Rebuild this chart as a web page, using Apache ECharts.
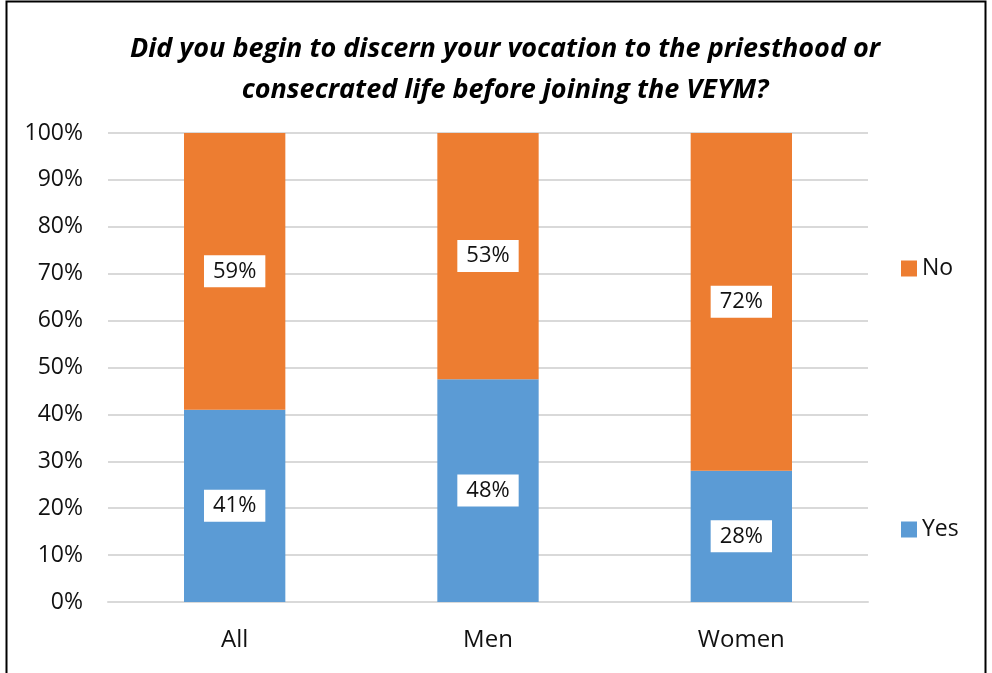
<!DOCTYPE html>
<html>
<head>
<meta charset="utf-8">
<script src="https://cdn.jsdelivr.net/npm/echarts@6/dist/echarts.min.js"></script>
<style>
  html, body { margin: 0; padding: 0; background: #fff; }
  #chart { width: 992px; height: 673px; }
</style>
</head>
<body>
<div id="chart"></div>
<script>
const categories = ['All', 'Men', 'Women'];
const yesValues = [41, 47.5, 28];
const noValues = [59, 52.5, 72];
const yTicks = ['0%', '10%', '20%', '30%', '40%', '50%', '60%', '70%', '80%', '90%', '100%'];

const labelStyle = {
  show: true,
  position: 'inside',
  formatter: p => Math.round(p.value) + '%',
  color: '#111',
  fontSize: 22,
  fontFamily: 'Open Sans',
  backgroundColor: '#fff',
  padding: [5, 9, 5, 9]
};

const getOption = () => {
  return {
    textStyle: { fontFamily: 'Open Sans' },
    title: {
      text: 'Did you begin to discern your vocation to the priesthood or\nconsecrated life before joining the VEYM?',
      left: 500,
      textAlign: 'center',
      top: 24,
      textStyle: {
        fontSize: 27,
        fontWeight: 'bold',
        fontStyle: 'italic',
        color: '#000',
        lineHeight: 41,
        fontFamily: 'Open Sans'
      }
    },
    legend: [
      {
        data: ['No'],
        left: 896,
        top: 252,
        itemWidth: 16,
        itemHeight: 16,
        itemGap: 6,
        icon: 'rect',
        textStyle: { fontSize: 23, color: '#111' }
      },
      {
        data: ['Yes'],
        left: 896,
        top: 513,
        itemWidth: 16,
        itemHeight: 16,
        icon: 'rect',
        textStyle: { fontSize: 23, color: '#111' }
      }
    ],
    grid: { left: 108, right: 124, top: 133, bottom: 71 },
    xAxis: {
      type: 'category',
      data: categories,
      axisTick: { show: false },
      axisLine: { lineStyle: { color: '#d9d9d9', width: 2 } },
      axisLabel: { fontSize: 24, color: '#111', margin: 26 }
    },
    yAxis: {
      type: 'value',
      min: 0,
      max: 100,
      interval: 10,
      axisLabel: {
        fontSize: 23,
        color: '#111',
        margin: 25,
        formatter: v => yTicks[Math.round(v / 10)]
      },
      splitLine: { lineStyle: { color: '#d9d9d9', width: 2 } }
    },
    series: [
      {
        name: 'Yes',
        type: 'bar',
        stack: 'total',
        data: yesValues,
        barWidth: '40%',
        itemStyle: { color: '#5b9bd5' },
        label: labelStyle
      },
      {
        name: 'No',
        type: 'bar',
        stack: 'total',
        data: noValues,
        barWidth: '40%',
        itemStyle: { color: '#ed7d31' },
        label: labelStyle
      }
    ],
    graphic: [
      {
        type: 'rect',
        shape: { x: 6.5, y: 1.5, width: 979, height: 690 },
        style: { fill: null, stroke: '#000', lineWidth: 2 },
        silent: true
      }
    ]
  };
};

const chart = echarts.init(document.getElementById('chart'));
chart.setOption(getOption());
</script>
</body>
</html>
